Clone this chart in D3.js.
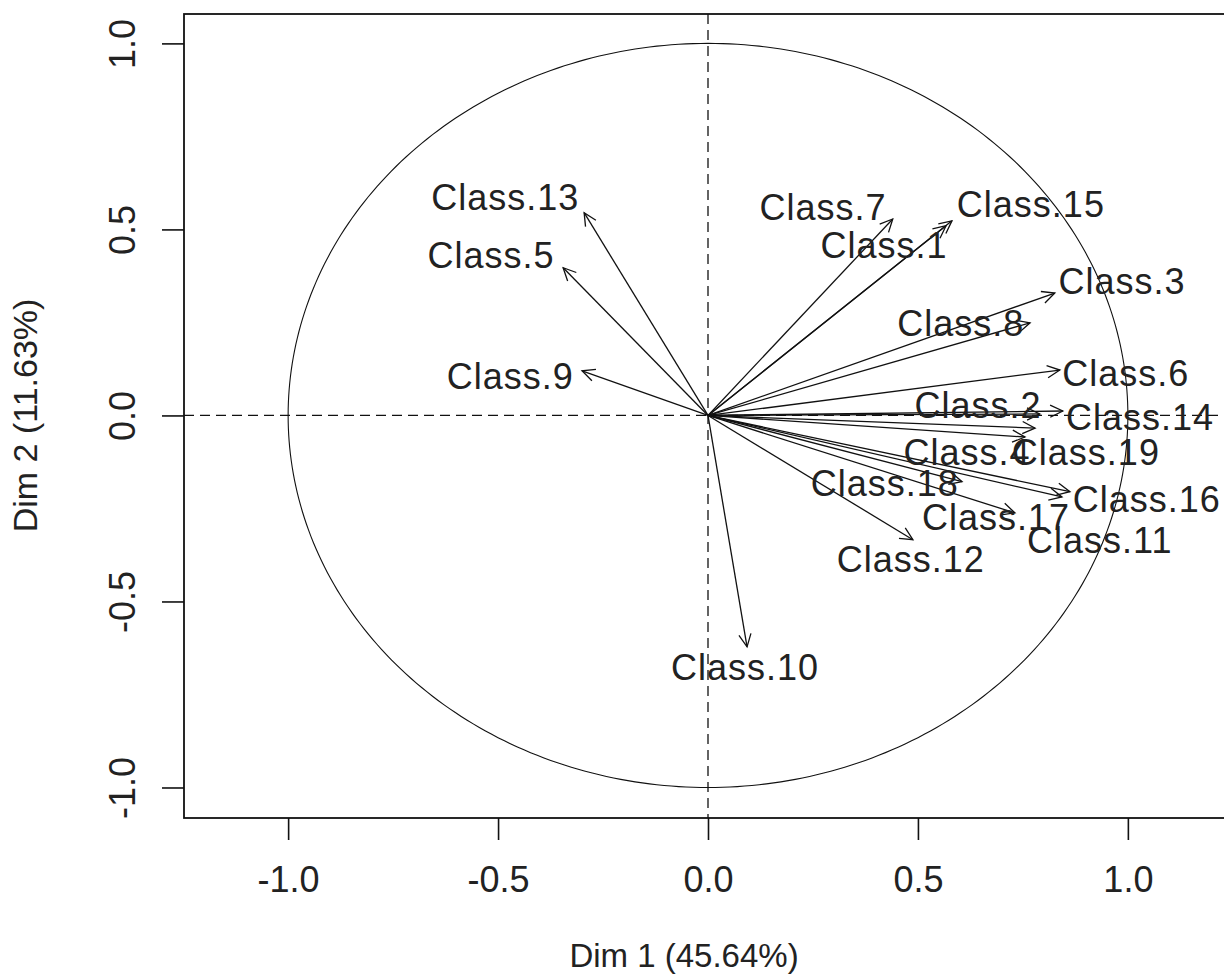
<!DOCTYPE html>
<html>
<head>
<meta charset="utf-8">
<script src="https://cdn.jsdelivr.net/npm/d3@7"></script>
<style>
  html, body { margin: 0; padding: 0; background: #fff; }
  svg { display: block; }
  text { font-family: "Liberation Sans", Arial, sans-serif; fill: #222; }
</style>
</head>
<body>
<div id="chart"></div>
<script>
// ---- data ----
const names = ["Class.1","Class.2","Class.3","Class.4","Class.5","Class.6","Class.7","Class.8","Class.9","Class.10",
               "Class.11","Class.12","Class.13","Class.14","Class.15","Class.16","Class.17","Class.18","Class.19"];
const dim1 = [0.567, 0.790, 0.826, 0.779, -0.345, 0.838, 0.440, 0.767, -0.300, 0.093,
              0.843, 0.488, -0.295, 0.845, 0.581, 0.862, 0.731, 0.605, 0.755];
const dim2 = [0.510, 0.004, 0.329, -0.034, 0.397, 0.122, 0.528, 0.249, 0.120, -0.622,
              -0.219, -0.334, 0.545, 0.012, 0.523, -0.205, -0.262, -0.178, -0.058];
// label anchor (centre of text) in data units
const labelX = [0.419, 0.643, 0.986, 0.617, -0.517, 0.995, 0.274, 0.602, -0.471, 0.088,
                0.933, 0.483, -0.483, 1.029, 0.769, 1.045, 0.686, 0.421, 0.900];
const labelY = [0.458, 0.026, 0.359, -0.098, 0.429, 0.114, 0.560, 0.248, 0.106, -0.676,
                -0.336, -0.388, 0.585, -0.004, 0.568, -0.227, -0.273, -0.184, -0.098];
const tickValues = [-1.0, -0.5, 0.0, 0.5, 1.0];
const xTitle = "Dim 1 (45.64%)";
const yTitle = "Dim 2 (11.63%)";

// ---- layout ----
const W = 1224, H = 980;
const mLeft = 184, mTop = 14, mRight = 1232, mBottom = 818;
const fontSize = 36;

const svg = d3.select("#chart").append("svg").attr("width", W).attr("height", H);

const x = d3.scaleLinear().domain([-1.248, 1.248]).range([mLeft, mRight]);
const y = d3.scaleLinear().domain([-1.082, 1.079]).range([mBottom, mTop]);

const fmt = d => d.toFixed(1);

// x axis
const gx = svg.append("g").attr("transform", `translate(0,${mBottom})`)
  .call(d3.axisBottom(x).tickValues(tickValues).tickFormat(fmt).tickSize(22).tickPadding(26).tickSizeOuter(0));
gx.select(".domain").remove();
gx.selectAll(".tick line").attr("stroke", "#111").attr("stroke-width", 1.6);
gx.selectAll(".tick text").attr("font-size", fontSize).attr("font-family", '"Liberation Sans", Arial, sans-serif')
  .attr("fill", "#222").attr("dy", "0.71em");

// y axis
const gy = svg.append("g").attr("transform", `translate(${mLeft},0)`)
  .call(d3.axisLeft(y).tickValues(tickValues).tickFormat(fmt).tickSize(22).tickSizeOuter(0));
gy.select(".domain").remove();
gy.selectAll(".tick line").attr("stroke", "#111").attr("stroke-width", 1.6);
gy.selectAll(".tick text").remove();
gy.selectAll(".tick").append("text")
  .attr("transform", "translate(-62,0) rotate(-90)")
  .attr("text-anchor", "middle")
  .attr("dy", "0.35em")
  .attr("font-size", fontSize)
  .attr("font-family", '"Liberation Sans", Arial, sans-serif')
  .attr("fill", "#222")
  .text(fmt);

// box
svg.append("rect").attr("x", mLeft).attr("y", mTop).attr("width", mRight - mLeft).attr("height", mBottom - mTop)
  .attr("fill", "none").attr("stroke", "#111").attr("stroke-width", 1.8);

// dashed reference lines
svg.append("line").attr("x1", x(0)).attr("x2", x(0)).attr("y1", mTop).attr("y2", mBottom)
  .attr("stroke", "#111").attr("stroke-width", 1.3).attr("stroke-dasharray", "10,6");
svg.append("line").attr("x1", mLeft).attr("x2", mRight).attr("y1", y(0)).attr("y2", y(0))
  .attr("stroke", "#111").attr("stroke-width", 1.3).attr("stroke-dasharray", "10,6");

// unit circle
const circ = d3.range(0, 361, 1).map(a => [Math.cos(a * Math.PI / 180), Math.sin(a * Math.PI / 180)]);
svg.append("path").attr("d", d3.line().x(d => x(d[0])).y(d => y(d[1]))(circ))
  .attr("fill", "none").attr("stroke", "#111").attr("stroke-width", 1.1);

// arrows
const data = names.map((n, i) => ({ name: n, d1: dim1[i], d2: dim2[i], lx: labelX[i], ly: labelY[i] }));
const ga = svg.append("g").attr("stroke", "#111").attr("stroke-width", 1.3).attr("fill", "none");
const headLen = 14, headAng = Math.PI / 7;
data.forEach(d => {
  const x0 = x(0), y0 = y(0), x1 = x(d.d1), y1 = y(d.d2);
  ga.append("line").attr("x1", x0).attr("y1", y0).attr("x2", x1).attr("y2", y1);
  const ang = Math.atan2(y1 - y0, x1 - x0);
  const p1 = [x1 - headLen * Math.cos(ang - headAng), y1 - headLen * Math.sin(ang - headAng)];
  const p2 = [x1 - headLen * Math.cos(ang + headAng), y1 - headLen * Math.sin(ang + headAng)];
  ga.append("path").attr("d", `M${p1[0]},${p1[1]}L${x1},${y1}L${p2[0]},${p2[1]}`);
});

// labels
svg.append("g").selectAll("text").data(data).join("text")
  .attr("x", d => x(d.lx)).attr("y", d => y(d.ly))
  .attr("text-anchor", "middle").attr("dy", "0.35em")
  .attr("font-size", fontSize)
  .attr("letter-spacing", 1)
  .text(d => d.name);

// axis titles
svg.append("text").attr("x", x(0) - 24).attr("y", 955).attr("text-anchor", "middle").attr("dy", "0.35em")
  .attr("font-size", 33).text(xTitle);
svg.append("text").attr("transform", `translate(25,${y(0)}) rotate(-90)`).attr("text-anchor", "middle")
  .attr("dy", "0.35em").attr("font-size", 34).text(yTitle);
</script>
</body>
</html>
